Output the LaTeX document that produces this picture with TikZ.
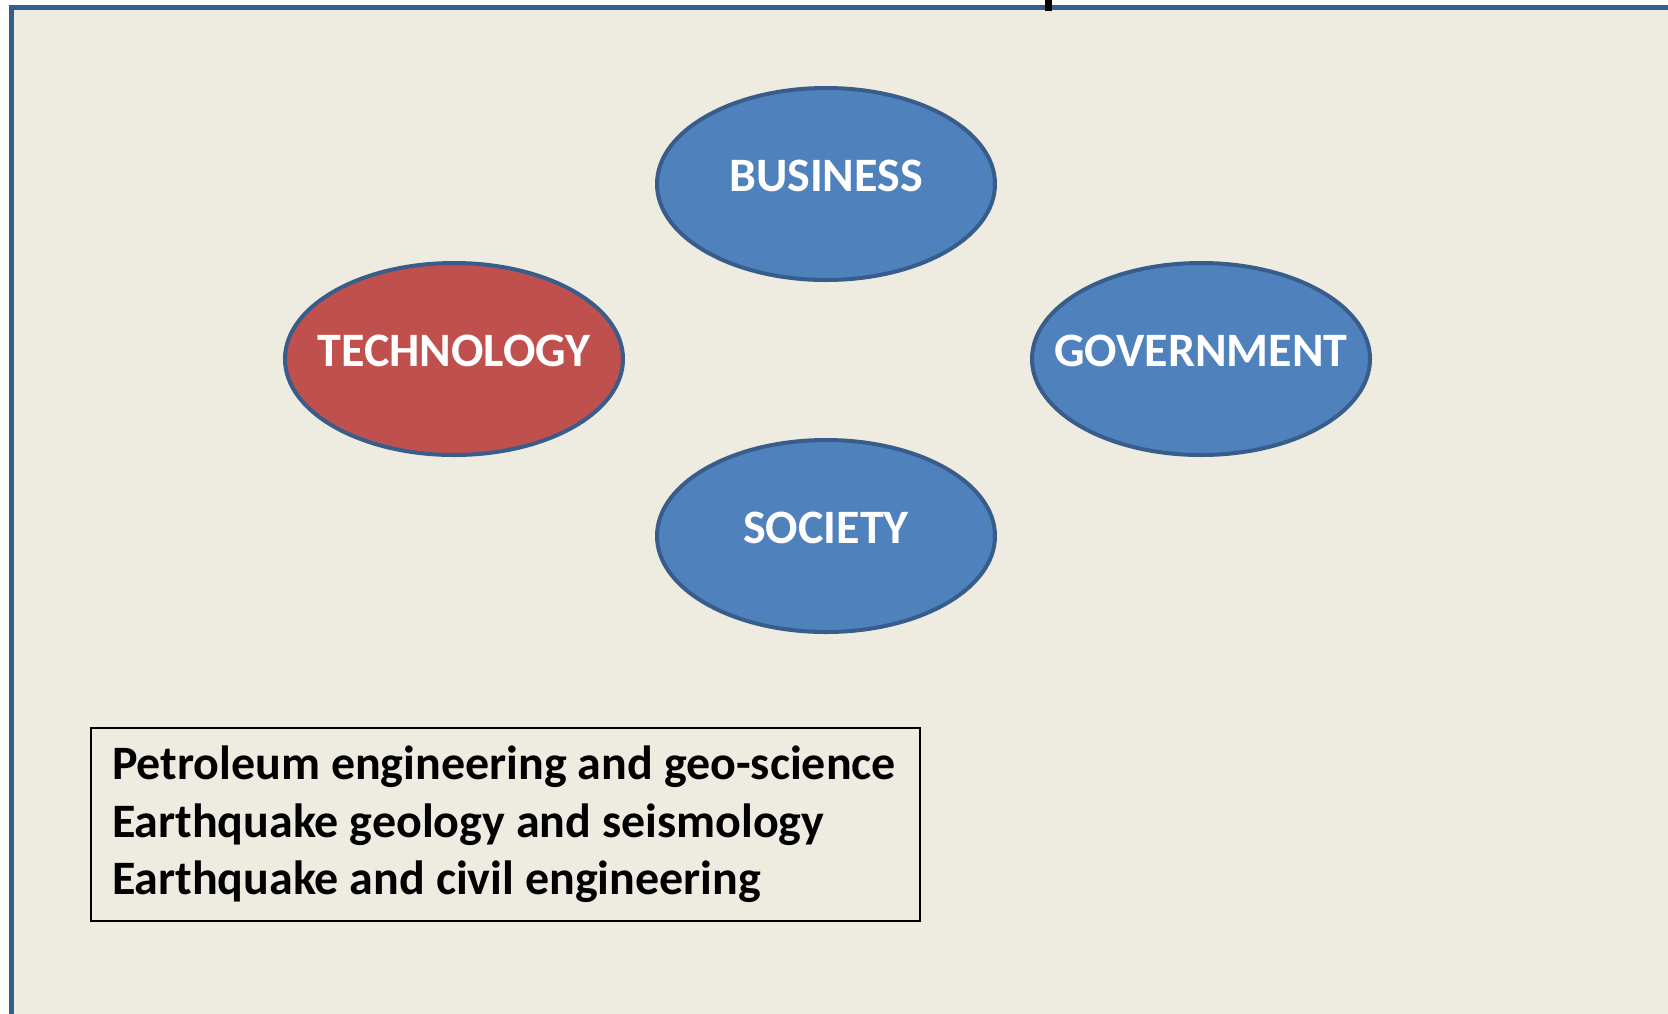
\documentclass[tikz,border=0pt]{standalone}
\usepackage{fontspec}
\setmainfont{Carlito}
\usetikzlibrary{shapes.geometric, positioning}
\usepackage{xcolor}

\begin{document}
\begin{tikzpicture}[
    x=0.5pt, y=-0.5pt,
    node distance=87.5pt and 186pt,
    on grid,
    font=\bfseries
]

\definecolor{colorback}{HTML}{EEECE1}
\definecolor{colorblue}{HTML}{4F81BD}
\definecolor{colorred}{HTML}{C0504D}
\definecolor{borderblue}{HTML}{385D8A}

\tikzset{
    sector/.style={
        ellipse,
        draw=borderblue,
        line width=2pt,
        inner sep=0pt,
        minimum width=169pt,
        minimum height=96pt
    },
    sectorname/.style={
        text=white,
        inner sep=0pt,
        text depth=8pt,
        font=\fontsize{24}{28}\selectfont\bfseries
    },
    listbox/.style={
        rectangle,
        draw=black,
        line width=1pt,
        fill=colorback,
        minimum width=414.5pt,
        minimum height=96.5pt,
        text width=393.5pt,
        inner xsep=10.5pt,
        align=flush left,
        font=\fontsize{24}{28.75}\selectfont\bfseries
    }
}

% Page and frame
\useasboundingbox (0,0) rectangle (1668,1013);
\fill[white] (0,0) rectangle (1668,1013);
\fill[colorback] (11.5,7.5) rectangle (1700,1050);
\draw[borderblue, line width=2.5pt] (11.5,1050) -- (11.5,7.5) -- (1700,7.5);
\coordinate (tick) at (1048.5,0);
\draw[black, line width=3.5pt] (tick) -- ++(0,11);

% Nodes
\node[sector, fill=colorblue, label={[sectorname]center:BUSINESS}] (biz) at (826,184) {};
\node[sector, fill=colorred, below left=of biz, label={[sectorname]center:TECHNOLOGY}] (tech) {};
\node[sector, fill=colorblue, below right=87.5pt and 187.5pt of biz, label={[sectorname]center:GOVERNMENT}] (gov) {};
\node[sector, fill=colorblue, below=176pt of biz, label={[sectorname]center:SOCIETY}] (soc) {};

% Fields
\node[listbox] (fields) at (505.5,824.5) {Petroleum engineering and geo-science\\
Earthquake geology and seismology\\
Earthquake and civil engineering};

\end{tikzpicture}
\end{document}
